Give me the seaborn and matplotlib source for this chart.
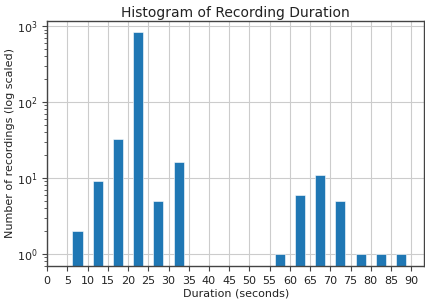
import numpy as np
import pandas as pd
import matplotlib
matplotlib.use("Agg")
import matplotlib.pyplot as plt
import seaborn as sns

# Histogram bins (seconds) and the counts
bin_edges = list(range(0, 95, 5))
bin_centers = [7.5, 12.5, 17.5, 22.5, 27.5, 32.5, 57.5, 62.5, 67.5, 72.5, 77.5, 82.5, 87.5]
counts = [2, 9, 33, 840, 5, 16, 1, 6, 11, 5, 1, 1, 1]
x_ticks = list(range(0, 95, 5))

sns.set_style("whitegrid", {
    "axes.edgecolor": "#444444",
    "grid.color": "#cccccc",
    "text.color": "#222222",
    "axes.labelcolor": "#222222",
    "xtick.color": "#222222",
    "ytick.color": "#222222",
    "xtick.bottom": True,
    "ytick.left": True,
})
plt.rcParams["font.family"] = ["DejaVu Sans"]

df = pd.DataFrame({"duration": bin_centers, "n": counts})

fig = plt.figure(figsize=(4.25, 3.03), dpi=100)
ax = fig.add_axes([0.111, 0.122, 0.887, 0.809])

sns.histplot(data=df, x="duration", weights="n", bins=bin_edges, shrink=0.5,
             color="#1f77b4", alpha=1.0, edgecolor="white", linewidth=0.4, ax=ax)
ax.set_yscale("log")
ax.set_ylim(0.69, 1170)
ax.set_xlim(0, 93.2)
ax.set_xticks(x_ticks)
ax.tick_params(axis="both", which="major", labelsize=8, length=3.5, color="#444444")
ax.tick_params(axis="y", which="minor", left=True, length=2, color="#444444")
ax.grid(True, which="major", color="#cccccc", linewidth=0.8)
ax.grid(False, which="minor")
ax.set_axisbelow(True)
for s in ax.spines.values():
    s.set_linewidth(1.0)

ax.set_title("Histogram of Recording Duration", fontsize=10, pad=3)
ax.set_xlabel("Duration (seconds)", fontsize=8, labelpad=2)
ax.set_ylabel("Number of recordings (log scaled)", fontsize=8, labelpad=1)

fig.savefig("out.png", dpi=100)
